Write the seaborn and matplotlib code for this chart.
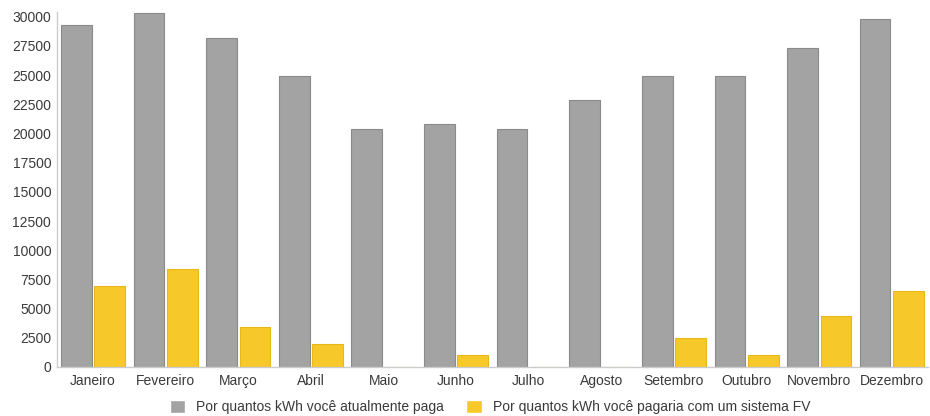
import pandas as pd
import matplotlib.pyplot as plt
import seaborn as sns

meses = ["Janeiro", "Fevereiro", "Março", "Abril", "Maio", "Junho", "Julho",
         "Agosto", "Setembro", "Outubro", "Novembro", "Dezembro"]
atual = [29300, 30300, 28200, 24900, 20400, 20800, 20400, 22900, 24900, 24900, 27300, 29800]
com_fv = [6900, 8400, 3400, 2000, 0, 1000, 0, 0, 2500, 1000, 4400, 6500]
serie_atual = "Por quantos kWh você atualmente paga"
serie_fv = "Por quantos kWh você pagaria com um sistema FV"

df = pd.concat([
    pd.DataFrame({"mes": meses, "kwh": atual, "serie": serie_atual}),
    pd.DataFrame({"mes": meses, "kwh": com_fv, "serie": serie_fv}),
])

sns.set_theme(style="white")
plt.rcParams["font.family"] = ["Liberation Sans", "DejaVu Sans"]

fig = plt.figure(figsize=(9.3, 4.16), dpi=100)
ax = fig.add_axes([0.061, 0.118, 0.937, 0.853])

sns.barplot(data=df, x="mes", y="kwh", hue="serie", ax=ax,
            palette=["#a3a3a3", "#f7c829"], width=0.92, gap=0.08,
            saturation=1, legend=True)

# darker outlines like the original
for bar, edge in zip(ax.patches, ["#8a8a8a"] * 12 + ["#e8b81a"] * 12):
    bar.set_edgecolor(edge)
    bar.set_linewidth(0.8)

ax.set_ylim(0, 30400)
ax.set_xlim(-0.5, 11.5)
ax.set_yticks(range(0, 30001, 2500))
ax.set_xlabel("")
ax.set_ylabel("")
ax.tick_params(axis="both", labelsize=10, colors="#555555", length=3, width=0.8)
ax.tick_params(axis="x", pad=2)
ax.tick_params(axis="y", pad=1)
for lab in ax.get_xticklabels() + ax.get_yticklabels():
    lab.set_color("#3a3a3a")

for s in ["top", "right"]:
    ax.spines[s].set_visible(False)
for s in ["left", "bottom"]:
    ax.spines[s].set_color("#cccccc")
    ax.spines[s].set_linewidth(1)

handles, labels = ax.get_legend_handles_labels()
ax.legend_.remove()
leg = fig.legend(handles, labels, loc="center", bbox_to_anchor=(0.527, 0.022), ncol=2,
                 frameon=False, fontsize=10, handlelength=1.1, handleheight=1.1,
                 columnspacing=1.6, handletextpad=0.8)
for t in leg.get_texts():
    t.set_color("#3a3a3a")

fig.savefig("out.png", dpi=100)
